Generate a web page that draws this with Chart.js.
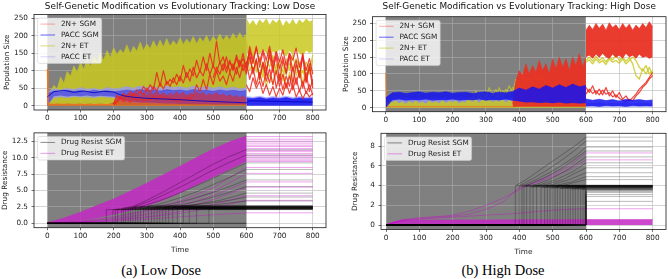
<!DOCTYPE html>
<html>
<head>
<meta charset="utf-8">
<title>Self-Genetic Modification vs Evolutionary Tracking</title>
<script src="https://cdn.jsdelivr.net/npm/chart.js@4.4.1/dist/chart.umd.min.js"></script>
<style>
  html, body { margin: 0; padding: 0; background: #fff; }
  #fig { position: relative; width: 668px; height: 279px; overflow: hidden; background: #fff; }
  #fig canvas { position: absolute; }
  .caption { position: absolute; top: 262px; width: 200px; text-align: center;
             font-family: "Liberation Serif", serif; font-size: 14.5px; line-height: 16px; color: #000; }
</style>
</head>
<body>
<div id="fig">
  <canvas id="lowPop" width="334" height="125" style="left:0;top:0"></canvas>
  <canvas id="highPop" width="334" height="125" style="left:334px;top:0"></canvas>
  <canvas id="lowRes" width="334" height="135" style="left:0;top:125px"></canvas>
  <canvas id="highRes" width="334" height="135" style="left:334px;top:125px"></canvas>
  <div class="caption" style="left:61px">(a) Low Dose</div>
  <div class="caption" style="left:403px">(b) High Dose</div>
</div>
<script>
// ---- axes / labels ----
var X_TICKS = [0, 100, 200, 300, 400, 500, 600, 700, 800];
var POP_TICKS = [0, 50, 100, 150, 200, 250];
var RES_TICKS_LOW = [0, 2.5, 5, 7.5, 10, 12.5];
var RES_TICKS_HIGH = [0, 2, 4, 6, 8];
var TREATMENT = [0, 600];   // shaded dosing window
var T_END = 800;
var POP_LABELS = ['2N+ SGM', 'PACC SGM', '2N+ ET', 'PACC ET'];
var RES_LABELS = ['Drug Resist SGM', 'Drug Resist ET'];

// ---- time grids ----
var T_PRE10 = [0,10,20,30,40,50,60,70,80,90,100,110,120,130,140,150,160,170,180,190,200,210,220,230,240,250,260,270,280,290,300,310,320,330,340,350,360,370,380,390,400,410,420,430,440,450,460,470,480,490,500,510,520,530,540,550,560,570,580,590,600];
var T_POST10 = [600,610,620,630,640,650,660,670,680,690,700,710,720,730,740,750,760,770,780,790,800];
var T_LATE10 = [200,210,220,230,240,250,260,270,280,290,300,310,320,330,340,350,360,370,380,390,400,410,420,430,440,450,460,470,480,490,500,510,520,530,540,550,560,570,580,590,600,610,620,630,640,650,660,670,680,690,700,710,720,730,740,750,760,770,780,790,800];
var T_MID10 = [240,250,260,270,280,290,300,310,320,330,340,350,360,370,380,390,400,410,420,430,440,450,460,470,480,490,500,510,520,530,540,550,560,570,580,590,600];
var T_RISE10 = [380,390,400,410,420,430,440,450,460,470,480,490,500,510,520,530,540,550,560,570,580,590,600];
var T_TAIL10 = [500,510,520,530,540,550,560,570,580,590,600,610,620,630,640,650,660,670,680,690,700,710,720,730,740,750,760,770,780,790,800];
var T_PRE20 = [0,20,40,60,80,100,120,140,160,180,200,220,240,260,280,300,320,340,360,380,400,420,440,460,480,500,520,540,560,580,600];
var T_POST20 = [600,620,640,660,680,700,720,740,760,780,800];

// ---- low dose: population ----
var LOW_ET2N_TOP = [5,42,58,48,82,64,98,84,114,96,124,104,133,112,140,124,152,130,158,138,166,146,161,150,174,149,170,156,182,158,177,163,186,166,188,168,192,170,186,174,194,175,191,178,198,177,195,183,201,180,199,185,205,187,201,189,207,191,209,193,206];
var LOW_ET2N_POST_TOP = [248,232,244,228,246,235,249,230,245,236,248,226,243,232,247,230,246,236,248,240,244];
var LOW_ET2N_POST_LOW = [150,150,140,158,145,160,150,138,155,147,162,150,140,156,148,160,150,142,158,150,155];
var LOW_ET2N_STRAY_1 = [190,120,150,95,140,80,130,110,145,90,120,70,135,100,150,85,125,60,110,90,130];
var LOW_ET2N_STRAY_2 = [170,140,100,130,70,110,55,90,60,120,75,105,50,95,65,115,80,100,70,120,95];
var LOW_ET2N_STRAY_3 = [150,100,130,110,90,125,100,140,120,100,130,115,90,120,105,135,110,95,125,100,145];
var LOW_SGM2N_BASE = [4,4,3,5,4,3,5,4,3,4,5,3,4,5,3,4,5,4,3,5,8,30,22,35,28,38,30,36,26,38,30,40,32,42,30,38,28,36,30,40,32,38,28,36,30,40,32,38,28,35,30,38,28,34,26,32,24,30,22,28,20];
var LOW_SGM2N_R1 = [5,30,20,35,25,40,30,45,35,55,40,60,45,95,55,100,60,75,65,90,70,115,80,105,85,130,95,140,100,150,110,185,120,140,105,130,100,145,115,135,110,160,120,170,110,155,100,145,95,150,105,140,90,150,100,130,85,140,70,120,60];
var LOW_SGM2N_R2 = [3,15,25,18,30,22,35,28,40,30,50,38,55,42,65,48,70,55,80,60,85,65,95,70,110,80,100,85,120,90,115,95,125,100,140,95,120,90,130,100,125,75,110,60,95,55,100,65,115,50,90,45,85,55,110,60,100,50,95,40,75];
var LOW_SGM2N_R3 = [2,10,20,12,18,10,22,14,25,12,20,15,28,18,30,20,25,15,22,12,20,15,25,18,30,60,40,75,45,90,60,100,70,85,60,95,70,110,80,120,90,140,95,130,80,120,70,105,60,100,55,90,50,85,45,80,40,70,35,60,30];
var LOW_SGM2N_R4 = [80,110,90,120,95,125,105,135,110,150,100,170,130,165,125,160,130,170,120,155,125,160,115,150,130,165,110,145,100,135,90];
var LOW_SGM2N_R5 = [60,40,80,50,70,35,60,30,55,25,50,30,65,35,60,25,45,20,40,25,35];
var LOW_SGM2N_R6 = [120,150,90,135,75,125,85,160,110,140,70,130,95,145,60,120,80,150,65,110,50];
var LOW_START_T = [0, 2, 200];
var LOW_START_V = [105, 4, 3];
var LOW_PACCET_LO = [2,22,24,22,25,23,24,22,25,23,22,12,9,8,7,8,6,7,6,5,6,5,6,5,5,4,5,4,5,4,5];
var LOW_PACCET_HI = [40,48,45,50,46,52,47,50,45,52,48,50,55,50,56,51,55,50,56,52,54,50,56,51,55,50,54,49,53,48,52];
var LOW_PACCET_POST_LO = [2,3,2,3,2,3,2,3,2,3,2];
var LOW_PACCET_POST_HI = [26,24,27,23,26,24,27,23,26,24,25];
var LOW_PACCSGM_LO = [0,27,29,26,28,27,29,26,28,27,26,20,15,12,10,9,8,7,6,6,5,5,4,4,4,3,3,3,3,3,3];
var LOW_PACCSGM_HI = [35,42,40,44,41,43,40,44,41,43,40,42,45,42,46,43,45,42,46,43,45,42,46,43,44,41,45,42,44,41,43];
var LOW_PACCSGM_POST_HI = [22,20,23,19,22,20,23,19,22,20,21];
var LOW_PACCSGM_LINE_T = [0,20,50,80,110,140,170,200,215,230,260,300,350,400,450,500,550,600,610,700,800];
var LOW_PACCSGM_LINE_V = [25,40,44,38,42,37,41,39,33,28,24,21,19,17,14,12,10,8,14,12,10];

// ---- high dose: population ----
var HIGH_ET2N_LOW_TOP = [5,22,15,20,12,18,10,19,13,21,12,17,11,20,14,18,12,22,13,19,15,21,12,18,14,25,16,22,14,24,18,26,15,22,17,25,14,23,16,28,20,30,18,26,22,30,20,28,18,26,20,28,17,25,19,27,16,24,18,22,15];
var HIGH_ET2N_Y1 = [15,30,20,50,25,45,30,60,35,55,30,50,40,65,45,85,60,95,70,90,65,100,75,95,70,85,60,80,55,75,50,70,45,65,40,55,35];
var HIGH_ET2N_Y2 = [10,18,35,20,40,22,50,25,45,28,60,30,55,35,60,45,75,50,85,55,80,60,90,65,80,55,70,50,65,45,60,40,55,35,50,30,45];
var HIGH_ET2N_POST_1 = [140,150,138,152,140,148,136,150,142,155,140,150,138,148,130,95,85,115,100,120,95];
var HIGH_ET2N_POST_2 = [135,142,130,145,133,140,128,145,135,140,132,145,130,140,150,140,120,110,125,100,110];
var HIGH_SGM2N_RISE = [10,80,110,95,130,100,125,105,140,110,130,100,145,115,150,120,145,110,150,125,160,120,150];
var HIGH_SGM2N_POST_LO = [150,155,145,158,148,160,150,145,158,148,155,145,160,150,155,145,158,148,152,145,150];
var HIGH_SGM2N_POST_HI = [230,245,232,250,236,248,230,252,238,246,232,250,236,248,230,245,235,250,238,255,240];
var HIGH_SGM2N_RL1 = [60,45,65,40,55,38,60,35,50,30,45,25,35,20,30,40,55,65,75,90,105];
var HIGH_SGM2N_RL2 = [40,55,42,50,38,52,40,45,32,38,28,22,18,25,20,35,45,60,70,85,95];
var HIGH_START_T = [0, 2, 390];
var HIGH_START_V = [103, 3, 3];
var HIGH_PACCSGM_LO = [0,22,24,21,23,22,24,21,23,22,24,21,23,22,24,21,23,22,24,21,18,15,16,14,15,13,15,12,14,12,13];
var HIGH_PACCSGM_HI = [30,44,46,42,45,47,43,46,44,47,43,45,46,42,45,47,43,46,44,48,58,52,62,55,66,58,68,60,70,62,66];
var HIGH_PACCSGM_POST_LO = [4,5,3,6,4,5,3,6,4,5,4];
var HIGH_PACCSGM_POST_HI = [26,22,25,21,24,20,25,22,24,21,23];
var HIGH_PACCET_HI = [10,28,26,29,27,28,26,29,27,28,26,29,27,28,26,29,27,28,26,29,30,28,31,29,30,28,31,29,30,28,30];
var HIGH_PACCET_POST_HI = [14,12,15,11,14,12,15,11,14,12,13];

// ---- low dose: drug resistance ----
var T_FAN = [0,50,100,150,200,250,300,350,400,450,500,550,600];
var ET_LOW_FAN_HI = [0.1,0.8,1.7,2.7,3.7,4.9,6.1,7.4,8.7,10.0,11.3,12.4,13.3];
var ET_LOW_FAN_LO = [0,0.15,0.4,0.8,1.3,1.9,2.6,3.5,4.6,5.8,7.0,8.2,9.4];
var T_STRAY = [0,100,200,300,400,500,600,800];
var ET_LOW_STRAYS = [
  [0,0.3,1.0,2.0,3.4,5.4,8.5,8.5],
  [0,0.3,0.9,1.8,3.0,4.8,7.6,7.6],
  [0,0.2,0.7,1.5,2.6,4.2,6.3,6.3],
  [0,0.2,0.6,1.3,2.2,3.6,5.5,5.5],
  [0,0.15,0.5,1.0,1.8,2.9,4.2,4.2],
  [0,0.1,0.4,0.9,1.5,2.4,3.5,3.5],
  [0,0.1,0.3,0.6,1.0,1.3,1.6,1.6]
];
var ET_LOW_FINAL = [13.2,12.8,12.5,12.2,11.9,11.7,11.4,11.1,10.9,10.6,10.3,10.1,9.8,9.6,9.4];
var SGM_LOW_JUMP_T = [178,198,205,212,224,230,236,244,251,258,266,273,281,290,298,305,314,322,331,339,348,357,366,378,392,410,428,450,487];
var SGM_LOW_JUMP_V = [2.1,2.1,2.15,2.2,2.25,2.4,2.35,2.5,2.3,2.45,2.6,2.2,2.55,2.35,2.5,2.7,2.4,2.3,2.6,2.45,2.25,2.55,2.65,2.4,2.3,2.5,2.35,2.45,2.2];
var SGM_LOW_CLIMB_T = [
  [250,300,350,400,450,500,550,600],
  [260,300,350,400,450,500,550,600],
  [280,330,380,430,480,530,600],
  [300,350,400,450,500,550,600],
  [320,380,440,500,550,600],
  [350,420,480,540,600],
  [380,450,520,600],
  [400,480,550,600],
  [420,500,600]
];
var SGM_LOW_CLIMB_V = [
  [2.4,3.5,4.8,6.2,7.6,9.0,10.2,11.2],
  [2.5,3.2,4.3,5.5,6.8,8.1,9.3,10.4],
  [2.5,3.3,4.2,5.3,6.4,7.6,9.2],
  [2.5,3.1,3.9,4.8,5.9,7.0,8.2],
  [2.5,3.0,3.8,4.7,5.6,6.6],
  [2.5,3.0,3.7,4.6,5.6],
  [2.5,2.9,3.5,4.6],
  [2.6,3.0,3.5,4.0],
  [2.5,2.8,3.4]
];

// ---- high dose: drug resistance ----
var T_ET_HIGH_BAND = [0,20,40,100,200,300,400,500,600,700,800];
var ET_HIGH_BAND = [0.02,0.3,0.45,0.5,0.52,0.52,0.53,0.53,0.55,0.55,0.55];
var T_ET_HIGH_RISE = [0,50,100,150,200,250,300,350,400,450,500,550,600,800];
var ET_HIGH_RISE = [
  [0,0.55,0.75,0.85,1.0,1.4,2.0,2.7,3.6,4.4,5.1,6.0,7.3,7.3],
  [0,0.5,0.65,0.8,0.9,1.1,1.6,2.3,3.8,4.3,4.9,5.6,6.6,6.6],
  [0,0.45,0.6,0.7,0.8,0.9,1.0,1.1,1.2,1.35,1.5,1.6,1.65,1.65]
];
var SGM_HIGH_JUMP_T = [388,400,408,414,422,432,441,452,465,476,484,492,500,507,514,522,530,538,546,553,561,568,576,584,591,597,600,600,600,600,600,600,600,600];
var SGM_HIGH_JUMP_V = [4.0,3.95,4.05,3.9,4.0,3.85,3.95,4.0,3.8,3.9,4.0,3.75,3.95,3.85,4.0,3.7,3.9,3.8,3.95,3.65,3.85,3.75,3.9,3.6,3.8,3.7,2.4,2.9,3.1,3.3,3.4,3.5,3.55,3.6];
var SGM_HIGH_CLIMB_T = [
  [390,420,450,480,510,540,570,600],
  [400,440,480,520,560,600],
  [410,450,490,530,570,600],
  [420,470,520,560,600],
  [440,490,540,600],
  [455,510,560,600],
  [470,530,600],
  [490,550,600],
  [510,560,600],
  [530,600]
];
var SGM_HIGH_CLIMB_V = [
  [4.0,4.6,5.3,6.0,6.7,7.4,8.1,8.9],
  [4.0,4.7,5.5,6.4,7.4,8.5],
  [4.0,4.6,5.3,6.1,7.0,7.9],
  [4.0,4.7,5.6,6.5,7.5],
  [4.0,4.6,5.5,6.9],
  [4.0,4.6,5.4,6.3],
  [4.0,4.6,5.8],
  [4.0,4.6,5.3],
  [4.0,4.4,4.9],
  [4.0,4.6]
];

// ---- colours ----
var YEL = 'rgba(200,200,30,0.85)';
var RED = 'rgba(232,50,36,0.95)';
var RED_LINE = 'rgba(235,40,30,0.85)';
var RED_LOW = 'rgba(225,40,35,0.6)';
var LAV = 'rgba(150,150,255,0.75)';
var BLUE_LIGHT = 'rgba(40,40,240,0.55)';
var BLUE = 'rgba(20,20,240,0.85)';
var BLUE_DARK = 'rgba(0,0,190,0.9)';
var MAG = 'rgba(195,40,195,0.85)';
var MAG_LINE = 'rgba(204,0,204,0.45)';
var BLACK = 'rgba(0,0,0,0.35)';
var GRID = 'rgba(176,176,176,0.9)';
var POP_KEYS = ['rgba(255,0,0,0.3)', 'rgba(0,0,255,0.55)', 'rgba(191,191,0,0.5)', 'rgba(100,100,255,0.25)'];
var RES_KEYS = ['rgba(0,0,0,0.4)', 'rgba(204,0,204,0.35)'];

Chart.defaults.font.family = '"DejaVu Sans", sans-serif';
Chart.defaults.color = '#222';

function pts(T, V) { return T.map(function(t, i) { return {x: t, y: V[i]}; }); }
function flat(t0, t1, v) { return [{x: t0, y: v}, {x: t1, y: v}]; }
function line(data, color, w) {
  return {data: data, borderColor: color, borderWidth: w, pointRadius: 0, fill: false, tension: 0, borderJoinStyle: 'round'};
}
function band(lo, hi, color) {
  return [
    {data: lo, borderColor: 'rgba(0,0,0,0)', borderWidth: 0.1, pointRadius: 0, fill: false},
    {data: hi, borderColor: color, borderWidth: 0.6, backgroundColor: color, pointRadius: 0, fill: '-1', tension: 0}
  ];
}

var deco = {
  id: 'deco',
  beforeDraw: function(chart, args, o) {
    var ctx = chart.ctx, a = chart.chartArea, x = chart.scales.x;
    ctx.save();
    ctx.fillStyle = '#fff';
    ctx.fillRect(a.left, a.top, a.width, a.height);
    var s = x.getPixelForValue(TREATMENT[0]), e = x.getPixelForValue(TREATMENT[1]);
    ctx.fillStyle = '#808080';
    ctx.fillRect(s, a.top, e - s, a.height);
    ctx.restore();
  },
  afterDraw: function(chart, args, o) {
    var ctx = chart.ctx, a = chart.chartArea;
    ctx.save();
    ctx.strokeStyle = '#1a1a1a';
    ctx.lineWidth = 0.8;
    ctx.strokeRect(a.left, a.top, a.width, a.height);
    if (o.title) {
      ctx.font = '8.9px "DejaVu Sans"';
      ctx.fillStyle = '#111';
      ctx.textAlign = 'center';
      ctx.textBaseline = 'middle';
      ctx.fillText(o.title, (a.left + a.right) / 2, o.titleY);
    }
    // legend (upper left, inside axes)
    ctx.font = '7.3px "DejaVu Sans"';
    var tw = 0;
    o.labels.forEach(function(l) { tw = Math.max(tw, ctx.measureText(l).width); });
    var bx = a.left + 3.6, by = a.top + 3.6, row = 10.9;
    var bw = 2.9 + 14.6 + 5.8 + tw + 2.9;
    var bh = 12.6 + (o.labels.length - 1) * row;
    ctx.beginPath();
    ctx.roundRect(bx, by, bw, bh, 2);
    ctx.fillStyle = 'rgba(255,255,255,0.8)';
    ctx.fill();
    ctx.strokeStyle = 'rgba(204,204,204,0.8)';
    ctx.lineWidth = 0.7;
    ctx.stroke();
    o.labels.forEach(function(l, i) {
      var yy = by + 6 + i * row;
      ctx.strokeStyle = o.keys[i];
      ctx.lineWidth = 1.1;
      ctx.beginPath();
      ctx.moveTo(bx + 2.9, yy);
      ctx.lineTo(bx + 17.5, yy);
      ctx.stroke();
      ctx.fillStyle = '#222';
      ctx.textAlign = 'left';
      ctx.textBaseline = 'middle';
      ctx.fillText(l, bx + 23.3, yy);
    });
    ctx.restore();
  }
};

function makePanel(id, box, cfg) {
  var ds = cfg.datasets;
  ds.forEach(function(d, i) { d.order = ds.length - i; });
  new Chart(document.getElementById(id), {
    type: 'line',
    data: {datasets: ds},
    options: {
      responsive: false,
      animation: false,
      events: [],
      layout: {autoPadding: false, padding: {left: 0, top: box.T - box.cy, right: box.cx + box.cw - box.R, bottom: 0}},
      plugins: {
        legend: {display: false},
        tooltip: {enabled: false},
        deco: {title: cfg.title, titleY: cfg.titleY, labels: cfg.labels, keys: cfg.keys}
      },
      scales: {
        x: {
          type: 'linear', min: cfg.x[0], max: cfg.x[1],
          afterBuildTicks: function(s) { s.ticks = X_TICKS.map(function(v) { return {value: v}; }); },
          afterFit: function(s) { s.height = box.cy + box.ch - box.B; },
          ticks: {font: {size: 7.3}, color: '#222', padding: 1.5, maxRotation: 0, autoSkip: false},
          grid: {color: GRID, lineWidth: 0.6, tickLength: 2.5, tickColor: '#333', tickWidth: 0.7},
          border: {display: false},
          title: cfg.xTitle ? {display: true, text: cfg.xTitle, font: {size: 7.3}, color: '#222', padding: {top: 0, bottom: cfg.xTitlePad}} : {display: false}
        },
        y: {
          type: 'linear', min: cfg.y[0], max: cfg.y[1],
          afterBuildTicks: function(s) { s.ticks = cfg.yTicks.map(function(v) { return {value: v}; }); },
          afterFit: function(s) { s.width = box.L - box.cx; },
          ticks: {font: {size: 7.3}, color: '#222', padding: 3.5, autoSkip: false, callback: cfg.yFmt},
          grid: {color: GRID, lineWidth: 0.6, tickLength: 2.5, tickColor: '#333', tickWidth: 0.7},
          border: {display: false},
          title: {display: true, text: cfg.yTitle, font: {size: 7.3}, color: '#222', padding: {top: cfg.yTitlePad, bottom: 0}}
        }
      }
    },
    plugins: [deco]
  });
}

function intFmt(v) { return String(v); }
function oneDec(v) { return v.toFixed(1); }

// ---------- (a) low dose, population ----------
var dsA = [];
dsA = dsA.concat(band(flat(0, 600, 0), pts(T_PRE10, LOW_ET2N_TOP), YEL));
dsA = dsA.concat(band(pts(T_POST10, LOW_ET2N_POST_LOW), pts(T_POST10, LOW_ET2N_POST_TOP), YEL));
[LOW_ET2N_STRAY_1, LOW_ET2N_STRAY_2, LOW_ET2N_STRAY_3].forEach(function(v) { dsA.push(line(pts(T_POST10, v), YEL, 1.2)); });
dsA = dsA.concat(band(pts(T_PRE20, LOW_PACCET_LO), pts(T_PRE20, LOW_PACCET_HI), LAV));
dsA = dsA.concat(band(pts(T_POST20, LOW_PACCET_POST_LO), pts(T_POST20, LOW_PACCET_POST_HI), LAV));
dsA = dsA.concat(band(pts(T_PRE20, LOW_PACCSGM_LO), pts(T_PRE20, LOW_PACCSGM_HI), BLUE_LIGHT));
dsA = dsA.concat(band(flat(600, 800, 0), pts(T_POST20, LOW_PACCSGM_POST_HI), BLUE));
dsA = dsA.concat(band(flat(0, 600, 0), pts(T_PRE10, LOW_SGM2N_BASE), RED_LOW));
[LOW_SGM2N_R1, LOW_SGM2N_R2, LOW_SGM2N_R3].forEach(function(v) { dsA.push(line(pts(T_LATE10, v), RED_LINE, 1.2)); });
dsA.push(line(pts(T_TAIL10, LOW_SGM2N_R4), RED_LINE, 1.2));
dsA.push(line(pts(T_POST10, LOW_SGM2N_R5), RED_LINE, 1.2));
dsA.push(line(pts(T_POST10, LOW_SGM2N_R6), RED_LINE, 1.2));
dsA.push(line(pts(LOW_START_T, LOW_START_V), 'rgba(240,120,30,0.9)', 1));
dsA.push(line(pts(LOW_PACCSGM_LINE_T, LOW_PACCSGM_LINE_V), BLUE_DARK, 0.9));

makePanel('lowPop', {cx: 0, cy: 0, cw: 334, ch: 125, L: 34, T: 14.5, R: 326, B: 110}, {
  x: [-40, 840], y: [-12.5, 261], yTicks: POP_TICKS, yFmt: intFmt,
  yTitle: 'Population Size', yTitlePad: 2.9,
  title: 'Self-Genetic Modification vs Evolutionary Tracking: Low Dose', titleY: 6.3,
  labels: POP_LABELS, keys: POP_KEYS, datasets: dsA
});

// ---------- (b) high dose, population ----------
var dsB = [];
dsB = dsB.concat(band(flat(0, 600, 5), pts(T_PRE20, HIGH_PACCET_HI), LAV));
dsB = dsB.concat(band(flat(600, 800, 1), pts(T_POST20, HIGH_PACCET_POST_HI), LAV));
dsB = dsB.concat(band(flat(0, 600, 0), pts(T_PRE10, HIGH_ET2N_LOW_TOP), YEL));
dsB.push(line(pts(T_MID10, HIGH_ET2N_Y1), YEL, 1));
dsB.push(line(pts(T_MID10, HIGH_ET2N_Y2), YEL, 1));
dsB.push(line(pts(HIGH_START_T, HIGH_START_V), 'rgba(240,120,30,0.9)', 1));
dsB = dsB.concat(band(flat(380, 600, 3), pts(T_RISE10, HIGH_SGM2N_RISE), RED));
dsB.push(line(pts(T_POST10, HIGH_ET2N_POST_1), YEL, 1.3));
dsB.push(line(pts(T_POST10, HIGH_ET2N_POST_2), YEL, 1.3));
dsB = dsB.concat(band(pts(T_POST10, HIGH_SGM2N_POST_LO), pts(T_POST10, HIGH_SGM2N_POST_HI), RED));
dsB.push(line(pts(T_POST10, HIGH_SGM2N_RL1), RED_LINE, 1.2));
dsB.push(line(pts(T_POST10, HIGH_SGM2N_RL2), RED_LINE, 1.2));
dsB = dsB.concat(band(pts(T_PRE20, HIGH_PACCSGM_LO), pts(T_PRE20, HIGH_PACCSGM_HI), BLUE));
dsB = dsB.concat(band(pts(T_POST20, HIGH_PACCSGM_POST_LO), pts(T_POST20, HIGH_PACCSGM_POST_HI), BLUE));

makePanel('highPop', {cx: 334, cy: 0, cw: 334, ch: 125, L: 372.5, T: 16.7, R: 666, B: 111.7}, {
  x: [-40, 840], y: [-12, 270], yTicks: POP_TICKS, yFmt: intFmt,
  yTitle: 'Population Size', yTitlePad: 7.3,
  title: 'Self-Genetic Modification vs Evolutionary Tracking: High Dose', titleY: 6.3,
  labels: POP_LABELS, keys: POP_KEYS, datasets: dsB
});

// ---------- (a) low dose, drug resistance ----------
var dsC = [];
dsC = dsC.concat(band(pts(T_FAN, ET_LOW_FAN_LO), pts(T_FAN, ET_LOW_FAN_HI), MAG));
ET_LOW_STRAYS.forEach(function(v) { dsC.push(line(pts(T_STRAY, v), MAG_LINE, 0.8)); });
ET_LOW_FINAL.forEach(function(v) { dsC.push(line(flat(TREATMENT[1], T_END, v), MAG_LINE, 0.8)); });
[0, 0, 0].forEach(function(v) { dsC.push(line(flat(0, TREATMENT[1], v), BLACK, 0.8)); });
SGM_LOW_JUMP_T.forEach(function(t, i) {
  var v = SGM_LOW_JUMP_V[i];
  dsC.push(line([{x: 0, y: 0}, {x: t, y: 0}, {x: t, y: v}, {x: T_END, y: v}], BLACK, 0.8));
});
SGM_LOW_CLIMB_T.forEach(function(T, i) {
  var V = SGM_LOW_CLIMB_V[i];
  dsC.push(line(pts(T, V).concat([{x: T_END, y: V[V.length - 1]}]), BLACK, 0.8));
});

makePanel('lowRes', {cx: 0, cy: 125, cw: 334, ch: 135, L: 34, T: 131.7, R: 326, B: 227.7}, {
  x: [-40, 840], y: [-0.66, 13.76], yTicks: RES_TICKS_LOW, yFmt: oneDec,
  yTitle: 'Drug Resistance', yTitlePad: 0.6, xTitle: 'Time', xTitlePad: 5.6,
  labels: RES_LABELS, keys: RES_KEYS, datasets: dsC
});

// ---------- (b) high dose, drug resistance ----------
var dsD = [];
dsD = dsD.concat(band(flat(0, T_END, 0), pts(T_ET_HIGH_BAND, ET_HIGH_BAND), MAG));
ET_HIGH_RISE.forEach(function(v) { dsD.push(line(pts(T_ET_HIGH_RISE, v), MAG_LINE, 0.8)); });
SGM_HIGH_JUMP_T.forEach(function(t, i) {
  var v = SGM_HIGH_JUMP_V[i];
  dsD.push(line([{x: 0, y: 0}, {x: t, y: 0}, {x: t, y: v}, {x: T_END, y: v}], BLACK, 0.8));
});
SGM_HIGH_CLIMB_T.forEach(function(T, i) {
  var V = SGM_HIGH_CLIMB_V[i];
  dsD.push(line(pts(T, V).concat([{x: T_END, y: V[V.length - 1]}]), BLACK, 0.8));
});

makePanel('highRes', {cx: 334, cy: 125, cw: 334, ch: 135, L: 381, T: 133.3, R: 666, B: 229.4}, {
  x: [-15, 840], y: [-0.44, 9.29], yTicks: RES_TICKS_HIGH, yFmt: intFmt,
  yTitle: 'Drug Resistance', yTitlePad: 16.3, xTitle: 'Time', xTitlePad: 3.9,
  labels: RES_LABELS, keys: RES_KEYS, datasets: dsD
});
</script>
</body>
</html>
